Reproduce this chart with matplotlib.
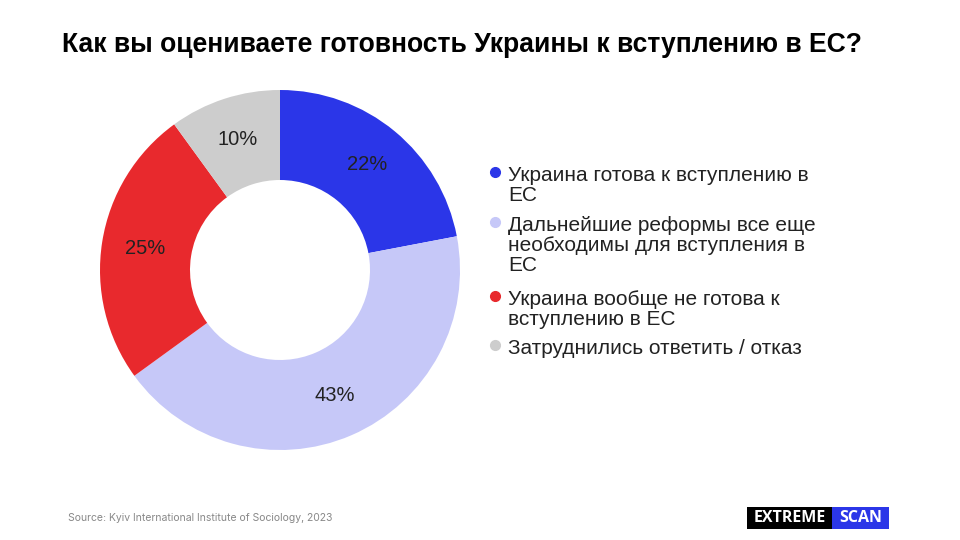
import numpy as np
import matplotlib.pyplot as plt
from matplotlib.lines import Line2D
from matplotlib.patches import Rectangle

plt.rcParams['font.family'] = ['Liberation Sans', 'DejaVu Sans']

# data
labels = ["Украина готова к вступлению в\nЕС",
          "Дальнейшие реформы все еще\nнеобходимы для вступления в\nЕС",
          "Украина вообще не готова к\nвступлению в ЕС",
          "Затруднились ответить / отказ"]
values = [22, 43, 25, 10]
colors = ["#2B36E8", "#C6C8F8", "#E8292D", "#CDCDCD"]

fig = plt.figure(figsize=(9.6, 5.4), dpi=100)
fig.patch.set_facecolor("white")

ax = fig.add_axes([100/960, 90/540, 360/960, 360/540])
wedges, texts = ax.pie(values, colors=colors, startangle=90, counterclock=False,
                       radius=1.0, wedgeprops=dict(width=0.5, edgecolor="none"))
# percent labels in the middle of the ring
ang0 = 90
for v in values:
    mid = ang0 - v * 3.6 / 2
    ang0 -= v * 3.6
    r = 0.76
    ax.text(r*np.cos(np.radians(mid)), r*np.sin(np.radians(mid)), f"{v}%",
            ha="center", va="center", fontsize=14.5, color="#222222")
ax.set_xlim(-1, 1)
ax.set_ylim(-1, 1)
ax.set_aspect("equal")
ax.axis("off")

fig.text(62/960, 1-45/540, "Как вы оцениваете готовность Украины к вступлению в ЕС?",
         fontsize=19.1, fontweight="bold", ha="left", va="center", color="black")

# legend (manual)
ys = [172, 222, 296, 345]
for lab, col, y in zip(labels, colors, ys):
    fig.add_artist(Line2D([495/960], [1-y/540], marker="o", markersize=7,
                          color=col, linestyle="none", transform=fig.transFigure))
    fig.text(508/960, 1-(y-6)/540, lab, fontsize=15, ha="left", va="top",
             linespacing=1.07, color="#222222")

fig.text(68/960, 1-518/540, "Source: Kyiv International Institute of Sociology, 2023",
         fontsize=7.5, color="#888888", ha="left", va="center", family=["Inter", "DejaVu Sans"])

# logo
fig.add_artist(Rectangle((747/960, 1-529/540), 85/960, 22/540, transform=fig.transFigure,
                         facecolor="black", edgecolor="none"))
fig.add_artist(Rectangle((832/960, 1-529/540), 57/960, 22/540, transform=fig.transFigure,
                         facecolor="#2B36E8", edgecolor="none"))
fig.text(789.5/960, 1-518/540, "EXTREME", fontsize=11.5, fontweight="bold", color="white",
         ha="center", va="center", family=["Open Sans", "DejaVu Sans"])
fig.text(860.5/960, 1-518/540, "SCAN", fontsize=11.5, fontweight="bold", color="white",
         ha="center", va="center", family=["Open Sans", "DejaVu Sans"])

fig.savefig("out.png", dpi=100)
